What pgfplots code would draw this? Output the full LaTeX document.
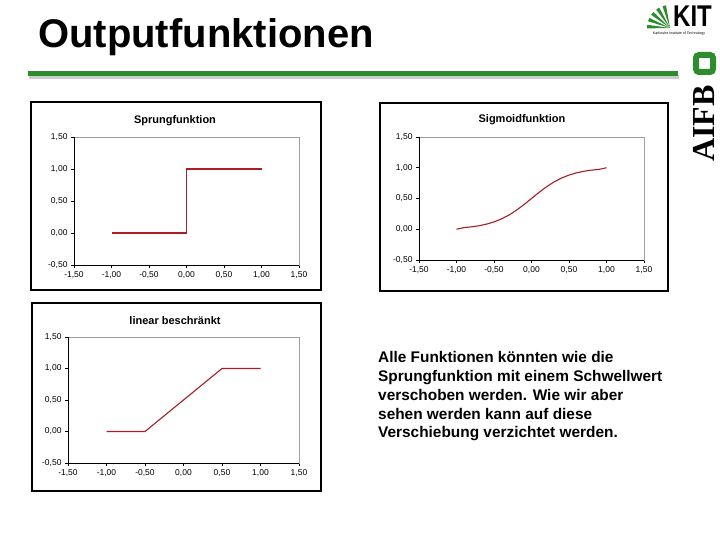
\documentclass[border=0pt]{standalone}
\usepackage{fontspec}
\setmainfont{Liberation Sans}
\newfontfamily\serifb{Liberation Serif}
\usepackage{pgfplots}
\pgfplotsset{compat=1.18}
\definecolor{curve}{RGB}{165,30,40}
\definecolor{slidegreen}{RGB}{45,140,45}
\pgfplotsset{chart/.style={
  scale only axis, anchor=south west,
  xmin=-1.5, xmax=1.5, ymin=-0.5, ymax=1.5,
  xtick={-1.5,-1,-0.5,0,0.5,1,1.5},
  ytick={-0.5,0,0.5,1,1.5},
  xticklabels={{-1,50},{-1,00},{-0,50},{0,00},{0,50},{1,00},{1,50}},
  yticklabels={{-0,50},{0,00},{0,50},{1,00},{1,50}},
  axis line style={draw=gray!75, line width=0.8bp},
  tick align=outside, xtick pos=bottom, ytick pos=left,
  major tick length=3bp, tick style={black, line width=0.6bp},
  ticklabel style={font=\fontsize{8.5bp}{10bp}\selectfont},
  clip=false,
  after end axis/.code={\draw[black, line width=0.9bp] (rel axis cs:0,1) -- (rel axis cs:0,0) -- (rel axis cs:1,0);}
}}
\begin{document}
\begin{tikzpicture}[x=1bp,y=1bp]
\path[fill=white] (0,0) rectangle (720,540);
% title
\node[anchor=base west, inner sep=0, font=\fontsize{40bp}{40bp}\selectfont\bfseries] at (38,492) {Outputfunktionen};
% green rule
\draw[gray!40, line width=4bp] (29,463) -- (679,463);
\draw[slidegreen, line width=5bp] (28,466) -- (678,466);
% KIT logo
\foreach \a in {100,118,136,154,172} {
  \fill[slidegreen] (670,512) -- ++(\a:23) arc[start angle=\a, end angle=\a+9, radius=23] -- cycle;
}
\node[anchor=base east, inner sep=0, font=\fontsize{30bp}{30bp}\selectfont\bfseries, xscale=0.8] at (712,513) {KIT};
\node[anchor=base, inner sep=0, font=\fontsize{3.6bp}{4bp}\selectfont] at (679,505) {Karlsruhe Institute of Technology};
% AIFB logo
\draw[slidegreen, line width=6bp, rounded corners=3bp] (696,485) rectangle (713,468);
\node[rotate=90, anchor=base west, inner sep=0, font=\serifb\bfseries\fontsize{32bp}{32bp}\selectfont] at (714,378) {AIFB};
% frames
\draw[line width=1.2bp] (31,438) rectangle (321,250);
\draw[line width=1.2bp] (380,437) rectangle (668,249);
\draw[line width=1.2bp] (32,237) rectangle (321,49);
% chart titles
\node[font=\fontsize{11bp}{13bp}\selectfont\bfseries] at (175,419) {Sprungfunktion};
\node[font=\fontsize{11bp}{13bp}\selectfont\bfseries] at (522,420) {Sigmoidfunktion};
\node[font=\fontsize{11bp}{13bp}\selectfont\bfseries] at (175,219) {linear beschränkt};
% chart 1
\begin{axis}[chart, at={(74bp,275bp)}, width=225bp, height=128bp]
\addplot[curve, line width=1.1bp] coordinates {(-1,0) (0,0) (0,1) (1,1)};
\end{axis}
% chart 2
\begin{axis}[chart, at={(419bp,280bp)}, width=225bp, height=123bp]
\addplot[curve, line width=1.1bp] coordinates {
(-1.0,0.000) (-0.9,0.027) (-0.8,0.039) (-0.7,0.057) (-0.6,0.083)
(-0.5,0.119) (-0.4,0.168) (-0.3,0.231) (-0.2,0.310) (-0.1,0.401)
(0.0,0.500) (0.1,0.599) (0.2,0.690) (0.3,0.769) (0.4,0.832)
(0.5,0.881) (0.6,0.917) (0.7,0.943) (0.8,0.961) (0.9,0.973) (1.0,1.000)};
\end{axis}
% chart 3
\begin{axis}[chart, at={(68bp,77bp)}, width=231bp, height=126bp]
\addplot[curve, line width=1.1bp] coordinates {(-1,0) (-0.5,0) (0.5,1) (1,1)};
\end{axis}
% body text
\node[anchor=base west, inner sep=0, align=left, font=\fontsize{15.4bp}{18.8bp}\selectfont\bfseries] at (378,102)
{Alle Funktionen könnten wie die\\Sprungfunktion mit einem Schwellwert\\verschoben werden. Wie wir aber\\sehen werden kann auf diese\\Verschiebung verzichtet werden.};
\end{tikzpicture}
\end{document}
